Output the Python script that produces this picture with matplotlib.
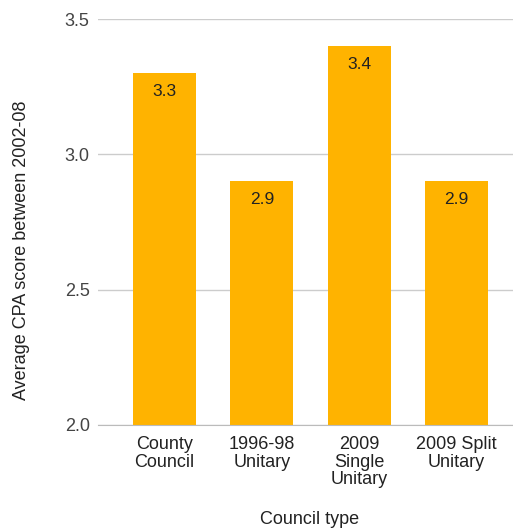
import matplotlib
matplotlib.use("Agg")
import matplotlib.pyplot as plt
import numpy as np

# data
categories = ["County\nCouncil", "1996-98\nUnitary", "2009\nSingle\nUnitary", "2009 Split\nUnitary"]
scores = [3.3, 2.9, 3.4, 2.9]
yticks = [2.0, 2.5, 3.0, 3.5]

plt.rcParams['font.family'] = ['Liberation Sans', 'DejaVu Sans']

fig = plt.figure(figsize=(5.13, 5.29), dpi=100)
ax = fig.add_axes([0.191, 0.197, 0.809, 0.767])

x = np.arange(len(categories))
bars = ax.bar(x, scores, width=0.65, color="#FFB300", zorder=3)

# value labels just inside the top of each bar
for b, v in zip(bars, scores):
    ax.annotate(f"{v}", (b.get_x() + b.get_width() / 2, v), xytext=(0, -7.5),
                textcoords="offset points", ha="center", va="top",
                fontsize=12.5, color="#222222", zorder=4)

ax.set_ylim(2.0, 3.5)
ax.set_xlim(-0.683, 3.58)
ax.set_yticks(yticks)
ax.set_yticklabels([f"{t:.1f}" for t in yticks], fontsize=13, color="#444444")
ax.set_xticks(x)
ax.set_xticklabels(categories, fontsize=13, color="#222222", linespacing=1.05)
ax.tick_params(length=0, pad=6)
ax.tick_params(axis='x', pad=8)

ax.grid(axis='y', color="#cccccc", linewidth=1, zorder=0)
for s in ["top", "right", "left"]:
    ax.spines[s].set_visible(False)
ax.spines["bottom"].set_color("#bbbbbb")
ax.spines["bottom"].set_zorder(5)

fig.text(22 / 513, 1 - 250 / 529, "Average CPA score between 2002-08", rotation=90,
         ha="center", va="center", fontsize=13, color="#222222")
fig.text(0.604, 0.002, "Council type", ha="center", va="bottom", fontsize=13, color="#222222")

fig.savefig("out.png", dpi=100)
